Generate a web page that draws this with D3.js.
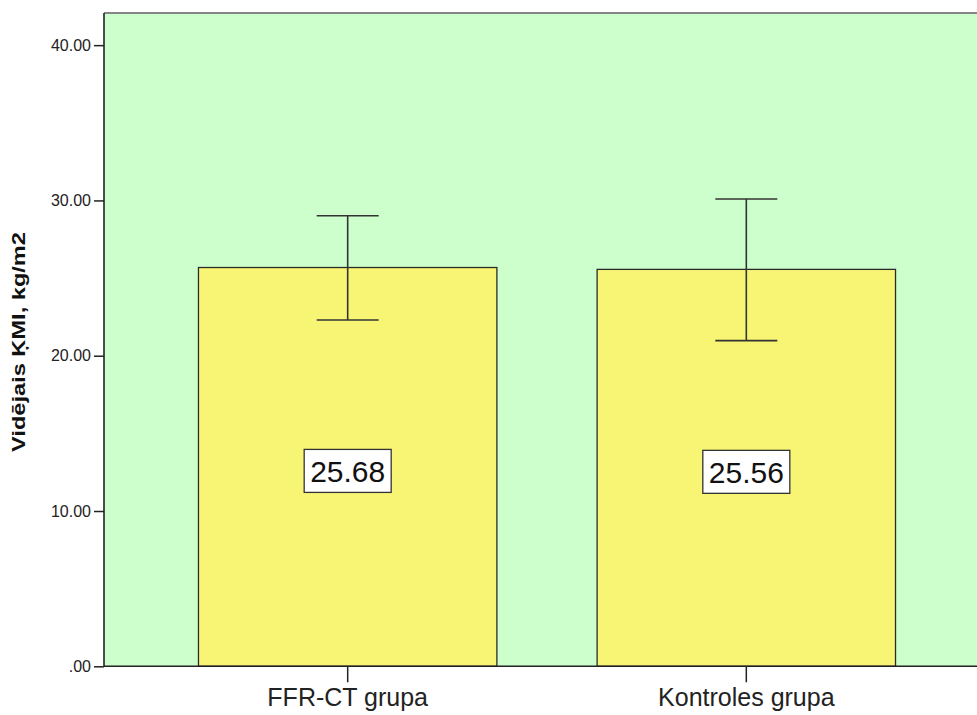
<!DOCTYPE html>
<html>
<head>
<meta charset="utf-8">
<script src="https://cdn.jsdelivr.net/npm/d3@7"></script>
<style>
  html, body { margin: 0; padding: 0; background: #ffffff; }
  svg { display: block; }
</style>
</head>
<body>
<svg id="chart" width="977" height="715"></svg>
<script>
// Mean BMI per group with error bar limits
const categories = ["FFR-CT grupa", "Kontroles grupa"];
const means = [25.68, 25.56];
const errLow = [22.30, 20.97];
const errHigh = [29.01, 30.09];
const yTicks = [0, 10, 20, 30, 40];
const yMax = 42.07;
const yTitle = "Vidējais ĶMI, kg/m2";

const svg = d3.select("#chart");
const plot = { left: 104, top: 13, right: 990, bottom: 666.3 };

const x = d3.scaleBand()
  .domain(categories)
  .range([plot.left, plot.right])
  .paddingInner(0.2514)
  .paddingOuter(0.237);

const y = d3.scaleLinear()
  .domain([0, yMax])
  .range([plot.bottom, plot.top]);

// plot background
svg.append("rect")
  .attr("x", plot.left).attr("y", plot.top)
  .attr("width", plot.right - plot.left)
  .attr("height", plot.bottom - plot.top)
  .attr("fill", "#ccffcc");

// top frame line
svg.append("line")
  .attr("x1", plot.left).attr("x2", plot.right)
  .attr("y1", plot.top).attr("y2", plot.top)
  .attr("stroke", "#858585").attr("stroke-width", 2);

// bars
svg.selectAll("rect.bar")
  .data(categories)
  .enter().append("rect")
  .attr("class", "bar")
  .attr("x", d => x(d))
  .attr("y", (d, i) => y(means[i]))
  .attr("width", x.bandwidth())
  .attr("height", (d, i) => y(0) - y(means[i]))
  .attr("fill", "#f9f574")
  .attr("stroke", "#2b2b2b")
  .attr("stroke-width", 1.3);

// error bars
const capHalf = 31;
const eb = svg.selectAll("g.err")
  .data(categories)
  .enter().append("g")
  .attr("class", "err")
  .attr("stroke", "#333333")
  .attr("stroke-width", 1.6);
eb.append("line")
  .attr("x1", d => x(d) + x.bandwidth() / 2)
  .attr("x2", d => x(d) + x.bandwidth() / 2)
  .attr("y1", (d, i) => y(errLow[i]))
  .attr("y2", (d, i) => y(errHigh[i]));
eb.append("line")
  .attr("x1", d => x(d) + x.bandwidth() / 2 - capHalf)
  .attr("x2", d => x(d) + x.bandwidth() / 2 + capHalf)
  .attr("y1", (d, i) => y(errHigh[i]))
  .attr("y2", (d, i) => y(errHigh[i]));
eb.append("line")
  .attr("x1", d => x(d) + x.bandwidth() / 2 - capHalf)
  .attr("x2", d => x(d) + x.bandwidth() / 2 + capHalf)
  .attr("y1", (d, i) => y(errLow[i]))
  .attr("y2", (d, i) => y(errLow[i]));

// value labels in boxes
const lab = svg.selectAll("g.vlabel")
  .data(categories)
  .enter().append("g")
  .attr("class", "vlabel")
  .attr("transform", (d, i) => `translate(${x(d) + x.bandwidth() / 2},${y(means[i] / 2) + 4})`);
lab.append("rect")
  .attr("x", -43.5).attr("y", -21.5)
  .attr("width", 87).attr("height", 43)
  .attr("fill", "#ffffff")
  .attr("stroke", "#333333")
  .attr("stroke-width", 1.3);
lab.append("text")
  .attr("text-anchor", "middle")
  .attr("dy", "0.36em")
  .style("font-family", "'Liberation Sans', Arial, sans-serif")
  .style("font-size", "30px")
  .attr("fill", "#111111")
  .text((d, i) => means[i].toFixed(2));

// y axis
const fmt = v => { const s = d3.format(".2f")(v); return s.startsWith("0.") ? s.slice(1) : s; };
const yAxis = svg.append("g")
  .attr("transform", `translate(${plot.left},0)`)
  .call(d3.axisLeft(y).tickValues(yTicks).tickFormat(fmt).tickSize(10).tickPadding(3));
yAxis.select(".domain").remove();
yAxis.selectAll(".tick line").attr("stroke", "#222").attr("stroke-width", 1.5);
yAxis.selectAll(".tick text")
  .style("font-family", "'Liberation Sans', Arial, sans-serif")
  .style("font-size", "16px")
  .attr("fill", "#222");
svg.append("line")
  .attr("x1", plot.left).attr("x2", plot.left)
  .attr("y1", plot.top).attr("y2", plot.bottom)
  .attr("stroke", "#222").attr("stroke-width", 1.6);

// x axis
const xAxis = svg.append("g")
  .attr("transform", `translate(0,${plot.bottom})`)
  .call(d3.axisBottom(x).tickSize(16).tickPadding(6));
xAxis.select(".domain").remove();
xAxis.selectAll(".tick line").attr("stroke", "#222").attr("stroke-width", 1.5);
xAxis.selectAll(".tick text")
  .style("font-family", "'Liberation Sans', Arial, sans-serif")
  .style("font-size", "25px")
  .attr("fill", "#222");
svg.append("line")
  .attr("x1", plot.left).attr("x2", plot.right)
  .attr("y1", plot.bottom).attr("y2", plot.bottom)
  .attr("stroke", "#222").attr("stroke-width", 1.6);

// y axis title, stretched along its length
svg.append("text")
  .attr("transform", "translate(25,342) rotate(-90)")
  .attr("text-anchor", "middle")
  .attr("textLength", 220)
  .attr("lengthAdjust", "spacingAndGlyphs")
  .style("font-family", "'Liberation Sans', Arial, sans-serif")
  .style("font-size", "18px")
  .style("font-weight", "bold")
  .attr("fill", "#111")
  .text(yTitle);
</script>
</body>
</html>
